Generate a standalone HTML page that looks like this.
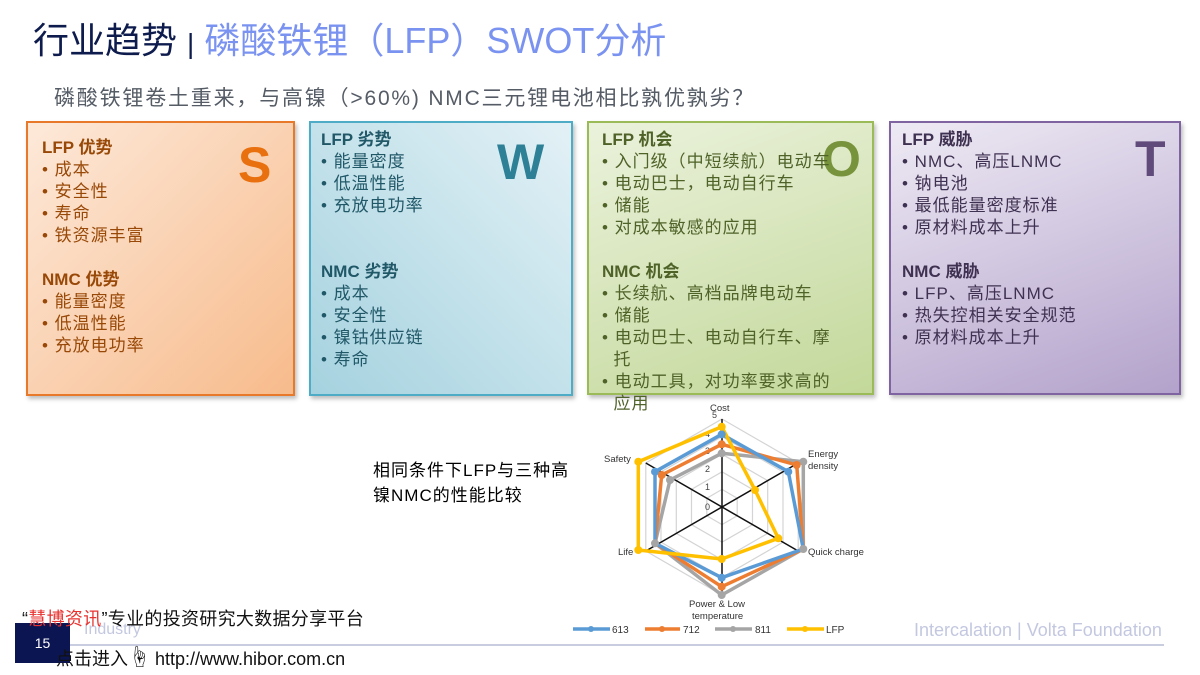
<!DOCTYPE html>
<html><head><meta charset="utf-8"><style>
*{margin:0;padding:0;box-sizing:border-box}
body{width:1200px;height:675px;background:#fff;position:relative;overflow:hidden;font-family:"Liberation Sans","Noto Sans CJK SC",sans-serif}
.a{position:absolute;white-space:nowrap}
.box{position:absolute;border:2px solid;box-shadow:2px 3px 4px rgba(0,0,0,0.25)}
.t{position:absolute;font-size:17px;line-height:22px;letter-spacing:1px;white-space:nowrap}
.t b{font-weight:bold;display:block;letter-spacing:0}
.big{position:absolute;font-weight:bold;font-size:50px;line-height:50px}
</style></head><body>
<div class="a" style="left:33px;top:19px;font-size:36px;line-height:44px;color:#0d1b4d">行业趋势 <span style="font-size:28px">|</span> <span style="color:#7b93f0">磷酸铁锂（LFP）SWOT分析</span></div>
<div class="a" style="left:54px;top:85px;font-size:21px;line-height:28px;color:#555c66;letter-spacing:1.8px">磷酸铁锂卷土重来，与高镍（&gt;60%) NMC三元锂电池相比孰优孰劣？</div>

<div class="box" style="left:26px;top:121px;width:269px;height:275px;border-color:#e8782a;background:linear-gradient(135deg,#fde9d9,#f7bb8c)"></div>
<div class="big" style="left:238px;top:140px;color:#e8700f">S</div>
<div class="t" style="left:42px;top:137px;color:#984807"><b>LFP 优势</b>• 成本<br>• 安全性<br>• 寿命<br>• 铁资源丰富<br><br><b>NMC 优势</b>• 能量密度<br>• 低温性能<br>• 充放电功率</div>

<div class="box" style="left:309px;top:121px;width:264px;height:275px;border-color:#4facc6;background:linear-gradient(45deg,#a5d2df,#e3f1f6)"></div>
<div class="big" style="left:497px;top:137px;color:#2e8097">W</div>
<div class="t" style="left:321px;top:129px;color:#215868"><b>LFP 劣势</b>• 能量密度<br>• 低温性能<br>• 充放电功率<br><br><br><b>NMC 劣势</b>• 成本<br>• 安全性<br>• 镍钴供应链<br>• 寿命</div>

<div class="box" style="left:587px;top:121px;width:287px;height:274px;border-color:#9bbb59;background:linear-gradient(160deg,#ebf2dc,#c3d89a)"></div>
<div class="big" style="left:822px;top:134px;color:#77933c">O</div>
<div class="t" style="left:602px;top:129px;color:#4f6228"><b>LFP 机会</b>• 入门级（中短续航）电动车<br>• 电动巴士，电动自行车<br>• 储能<br>• 对成本敏感的应用<br><br><b>NMC 机会</b>• 长续航、高档品牌电动车<br>• 储能<br>• 电动巴士、电动自行车、摩<br>&nbsp;&nbsp;托<br>• 电动工具，对功率要求高的<br>&nbsp;&nbsp;应用</div>

<div class="box" style="left:889px;top:121px;width:292px;height:274px;border-color:#8064a2;background:linear-gradient(160deg,#eeeaf4,#b3a2cb)"></div>
<div class="big" style="left:1135px;top:134px;color:#604a7b">T</div>
<div class="t" style="left:902px;top:129px;color:#3f3151"><b>LFP 威胁</b>• NMC、高压LNMC<br>• 钠电池<br>• 最低能量密度标准<br>• 原材料成本上升<br><br><b>NMC 威胁</b>• LFP、高压LNMC<br>• 热失控相关安全规范<br>• 原材料成本上升</div>

<div class="a" style="left:373px;top:458px;font-size:17px;line-height:25px;color:#000;letter-spacing:1px">相同条件下LFP与三种高<br>镍NMC的性能比较</div>

<svg class="a" style="left:0;top:0" width="1200" height="675" font-family="Liberation Sans,sans-serif">
<g fill="none" stroke="#d4d4d4" stroke-width="1.2">
<polygon points="722,419 798.2,463 798.2,551 722,595 645.8,551 645.8,463"/>
<polygon points="722,436.6 783,471.8 783,542.2 722,577.4 661,542.2 661,471.8"/>
<polygon points="722,454.2 767.7,480.6 767.7,533.4 722,559.8 676.3,533.4 676.3,480.6"/>
<polygon points="722,471.8 752.5,489.4 752.5,524.6 722,542.2 691.5,524.6 691.5,489.4"/>
<polygon points="722,489.4 737.2,498.2 737.2,515.8 722,524.6 706.8,515.8 706.8,498.2"/>
</g>
<g stroke="#111" stroke-width="1.5"><line x1="722" y1="419" x2="722" y2="595"/><line x1="645.8" y1="463" x2="798.2" y2="551"/><line x1="645.8" y1="551" x2="798.2" y2="463"/></g>
<g font-size="9" fill="#444"><text x="712" y="418">5</text><text x="705" y="437">4</text><text x="705" y="454">3</text><text x="705" y="472">2</text><text x="705" y="490">1</text><text x="705" y="510">0</text></g>
<g stroke-width="3.5" fill="none" stroke-linejoin="round">
<polygon stroke="#a5a5a5" points="721.7,453.3 803.3,461.7 803.3,549 721.7,595 655,543.3 670,480"/>
<polygon stroke="#ed7d31" points="721.7,444.3 796.7,465 803.3,549 721.7,586.7 655,543.3 661.7,475"/>
<polygon stroke="#5b9bd5" points="721.7,434.3 788.3,471.7 803.3,549 721.7,577.7 655,543.3 655,471.7"/>
<polygon stroke="#ffc000" points="721.7,426.7 755,490 778.3,538.3 721.7,559 638.3,550 638.3,461.7"/>
</g>
<g fill="#a5a5a5"><circle cx="721.7" cy="453.3" r="4"/><circle cx="803.3" cy="461.7" r="4"/><circle cx="803.3" cy="549" r="4"/><circle cx="721.7" cy="595" r="4"/><circle cx="655" cy="543.3" r="4"/><circle cx="670" cy="480" r="4"/></g>
<g fill="#ed7d31"><circle cx="721.7" cy="444.3" r="4"/><circle cx="796.7" cy="465" r="4"/><circle cx="721.7" cy="586.7" r="4"/><circle cx="661.7" cy="475" r="4"/></g>
<g fill="#5b9bd5"><circle cx="721.7" cy="434.3" r="4"/><circle cx="788.3" cy="471.7" r="4"/><circle cx="721.7" cy="577.7" r="4"/><circle cx="655" cy="471.7" r="4"/></g>
<g fill="#ffc000"><circle cx="721.7" cy="426.7" r="4"/><circle cx="755" cy="490" r="4"/><circle cx="778.3" cy="538.3" r="4"/><circle cx="721.7" cy="559" r="4"/><circle cx="638.3" cy="550" r="4"/><circle cx="638.3" cy="461.7" r="4"/></g>
<g font-size="9.5" fill="#333">
<text x="710" y="411">Cost</text>
<text x="808" y="457">Energy</text><text x="808" y="469">density</text>
<text x="808" y="555">Quick charge</text>
<text x="618" y="555">Life</text>
<text x="604" y="462">Safety</text>
<text x="689" y="607">Power &amp; Low</text><text x="692" y="619">temperature</text>
</g>
<g stroke-width="3.5"><line x1="573" y1="629" x2="610" y2="629" stroke="#5b9bd5"/><line x1="645" y1="629" x2="680" y2="629" stroke="#ed7d31"/><line x1="715" y1="629" x2="752" y2="629" stroke="#a5a5a5"/><line x1="787" y1="629" x2="824" y2="629" stroke="#ffc000"/></g>
<circle cx="591" cy="629" r="3" fill="#5b9bd5"/><circle cx="662" cy="629" r="3" fill="#ed7d31"/><circle cx="733" cy="629" r="3" fill="#a5a5a5"/><circle cx="805" cy="629" r="3" fill="#ffc000"/>
<g font-size="10" fill="#333"><text x="612" y="633">613</text><text x="683" y="633">712</text><text x="755" y="633">811</text><text x="826" y="633">LFP</text></g>
<line x1="70" y1="645" x2="1164" y2="645" stroke="#c8cde0" stroke-width="2"/>
</svg>

<div class="a" style="left:84px;top:621px;font-size:16px;color:#c3c8e0">Industry</div>
<div class="a" style="left:914px;top:620px;font-size:18px;color:#c3c8e0">Intercalation | Volta Foundation</div>
<div class="a" style="left:15px;top:623px;width:55px;height:40px;background:#0b1552;color:#fff;font-size:14px;line-height:40px;text-align:center">15</div>
<div class="a" style="left:22px;top:605px;font-size:18px;color:#111;letter-spacing:0.3px">“<span style="color:#e8322f">慧博资讯</span>”专业的投资研究大数据分享平台</div>
<div class="a" style="left:56px;top:640px;font-size:18px;color:#111">点击进入<span style="font-size:22px">☝</span> http://www.hibor.com.cn</div>
</body></html>
